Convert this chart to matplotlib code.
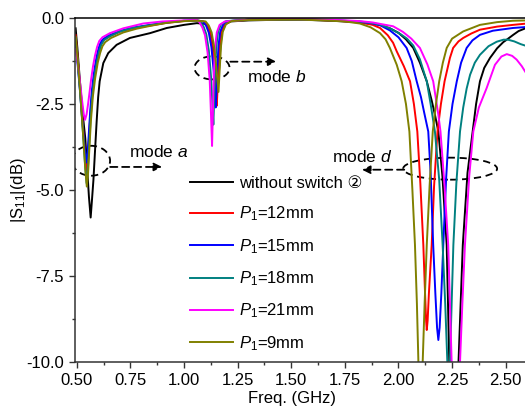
import matplotlib
matplotlib.use('Agg')
import matplotlib.pyplot as plt
from matplotlib.patches import Ellipse

plt.rcParams['font.family'] = ['Liberation Sans', 'DejaVu Sans', 'Noto Sans CJK SC']
plt.rcParams['mathtext.fontset'] = 'custom'
plt.rcParams['mathtext.rm'] = 'Liberation Sans'
plt.rcParams['mathtext.it'] = 'Liberation Sans:italic'
plt.rcParams['axes.unicode_minus'] = False

# S11 curves (frequency in GHz, magnitude in dB)
f_nosw = [0.495, 0.503, 0.515, 0.528, 0.540, 0.549, 0.557, 0.565, 0.571, 0.578, 0.585, 0.593,
          0.600, 0.607, 0.624, 0.647, 0.686, 0.748, 0.842, 0.920, 1.000, 1.060, 1.098, 1.113,
          1.126, 1.138, 1.148, 1.158, 1.164, 1.170, 1.178, 1.193, 1.218, 1.30, 1.45, 1.60,
          1.72, 1.82, 1.88, 1.914, 1.96, 2.00, 2.035, 2.069, 2.100, 2.132, 2.155, 2.170,
          2.186, 2.205, 2.225, 2.237, 2.245, 2.255, 2.265, 2.280, 2.300, 2.322, 2.346, 2.362,
          2.380, 2.400, 2.427, 2.460, 2.489, 2.505, 2.535, 2.560, 2.600]
s_nosw = [-0.30, -0.87, -1.84, -2.80, -3.50, -4.40, -5.20, -5.80, -5.30, -4.70, -3.90, -3.00,
          -2.30, -1.84, -1.31, -1.02, -0.78, -0.58, -0.44, -0.29, -0.20, -0.15, -0.17, -0.27,
          -0.45, -0.85, -1.45, -2.00, -1.45, -0.80, -0.40, -0.18, -0.10, -0.07, -0.05, -0.06,
          -0.09, -0.13, -0.17, -0.20, -0.30, -0.43, -0.62, -0.87, -1.30, -1.84, -2.40, -2.81,
          -3.30, -4.60, -6.60, -10.0, -12.5, -13.5, -12.5, -10.0, -6.60, -4.50, -3.30, -2.50,
          -1.84, -1.45, -1.16, -0.88, -0.70, -0.63, -0.49, -0.38, -0.28]

f_p12 = [0.495, 0.505, 0.515, 0.525, 0.533, 0.540, 0.546, 0.552, 0.558, 0.564, 0.572, 0.582,
         0.592, 0.602, 0.612, 0.625, 0.650, 0.700, 0.760, 0.842, 0.920, 1.000, 1.060, 1.093,
         1.108, 1.121, 1.133, 1.143, 1.148, 1.153, 1.157, 1.161, 1.166, 1.174, 1.188, 1.213,
         1.30, 1.45, 1.60, 1.72, 1.82, 1.88, 1.914, 1.95, 1.975, 1.992, 2.025, 2.054, 2.072,
         2.088, 2.102, 2.116, 2.124, 2.129, 2.132, 2.136, 2.142, 2.155, 2.166, 2.182, 2.198,
         2.215, 2.240, 2.255, 2.280, 2.302, 2.340, 2.380, 2.460, 2.534, 2.600]
s_p12 = [-0.50, -1.20, -2.00, -2.80, -3.50, -4.10, -4.50, -4.10, -3.40, -2.80, -2.20, -1.70,
         -1.30, -1.00, -0.78, -0.64, -0.54, -0.40, -0.30, -0.22, -0.14, -0.09, -0.07, -0.10,
         -0.22, -0.42, -0.85, -1.50, -2.00, -2.55, -2.00, -1.40, -0.80, -0.40, -0.18, -0.09,
         -0.05, -0.04, -0.05, -0.08, -0.13, -0.20, -0.29, -0.50, -0.72, -0.97, -1.40, -1.84, -2.50,
         -3.30, -4.80, -6.60, -8.00, -8.80, -9.07, -8.80, -8.00, -6.60, -4.90, -3.30, -2.50,
         -1.84, -1.16, -0.87, -0.68, -0.58, -0.45, -0.34, -0.25, -0.20, -0.16]

f_p15 = [0.495, 0.505, 0.515, 0.525, 0.533, 0.540, 0.545, 0.551, 0.557, 0.563, 0.570, 0.579,
         0.589, 0.598, 0.608, 0.620, 0.645, 0.700, 0.760, 0.842, 0.920, 1.000, 1.060, 1.088,
         1.103, 1.116, 1.128, 1.138, 1.143, 1.148, 1.152, 1.156, 1.161, 1.169, 1.183, 1.208,
         1.30, 1.45, 1.60, 1.72, 1.82, 1.88, 1.914, 1.96, 2.000, 2.038, 2.062, 2.085, 2.105,
         2.120, 2.139, 2.150, 2.162, 2.172, 2.180, 2.186, 2.192, 2.200, 2.209, 2.222, 2.235,
         2.252, 2.272, 2.292, 2.318, 2.345, 2.380, 2.440, 2.534, 2.600]
s_p15 = [-0.75, -1.40, -2.10, -2.90, -3.50, -3.95, -4.20, -3.90, -3.30, -2.70, -2.15, -1.65,
         -1.25, -0.97, -0.76, -0.63, -0.52, -0.38, -0.28, -0.20, -0.13, -0.08, -0.07, -0.10,
         -0.22, -0.43, -0.85, -1.50, -2.05, -2.60, -2.05, -1.40, -0.80, -0.40, -0.18, -0.09,
         -0.05, -0.04, -0.05, -0.07, -0.11, -0.16, -0.21, -0.36, -0.56, -0.87, -1.25, -1.84, -2.30,
         -2.75, -3.30, -4.50, -6.60, -8.00, -9.00, -9.36, -9.00, -8.00, -6.60, -4.70, -3.30,
         -2.50, -1.84, -1.30, -0.87, -0.65, -0.49, -0.37, -0.29, -0.26]

f_p18 = [0.495, 0.505, 0.515, 0.525, 0.533, 0.540, 0.546, 0.552, 0.558, 0.565, 0.573, 0.583,
         0.594, 0.604, 0.615, 0.628, 0.655, 0.700, 0.760, 0.842, 0.920, 1.000, 1.060, 1.077,
         1.092, 1.104, 1.116, 1.126, 1.132, 1.137, 1.141, 1.145, 1.151, 1.159, 1.172, 1.197,
         1.30, 1.45, 1.60, 1.72, 1.82, 1.88, 1.914, 1.96, 2.010, 2.040, 2.069, 2.100, 2.132,
         2.150, 2.170, 2.190, 2.206, 2.218, 2.228, 2.234, 2.240, 2.248, 2.256, 2.270, 2.287,
         2.302, 2.318, 2.334, 2.356, 2.380, 2.420, 2.458, 2.490, 2.510, 2.540, 2.570, 2.600]
s_p18 = [-0.60, -1.30, -2.10, -2.95, -3.70, -4.35, -4.80, -4.40, -3.70, -2.90, -2.25, -1.70,
         -1.28, -0.98, -0.77, -0.64, -0.53, -0.40, -0.29, -0.21, -0.13, -0.08, -0.07, -0.11,
         -0.26, -0.47, -0.95, -1.70, -2.40, -3.10, -2.30, -1.55, -0.82, -0.41, -0.19, -0.09,
         -0.05, -0.04, -0.05, -0.07, -0.10, -0.15, -0.19, -0.30, -0.47, -0.60, -0.80, -1.20, -1.84,
         -2.50, -3.30, -4.70, -6.60, -8.30, -10.0, -11.0, -10.0, -8.30, -6.60, -4.80, -3.30,
         -2.60, -2.05, -1.65, -1.30, -1.07, -0.82, -0.69, -0.63, -0.63, -0.68, -0.76, -0.82]

f_p21 = [0.495, 0.505, 0.515, 0.525, 0.533, 0.539, 0.546, 0.553, 0.559, 0.566, 0.576, 0.585,
         0.595, 0.605, 0.620, 0.655, 0.717, 0.810, 0.900, 1.000, 1.060, 1.071, 1.086, 1.098,
         1.110, 1.120, 1.126, 1.131, 1.135, 1.139, 1.145, 1.153, 1.166, 1.191, 1.30, 1.45,
         1.60, 1.72, 1.82, 1.88, 1.914, 1.975, 2.020, 2.060, 2.100, 2.135, 2.162, 2.186, 2.196,
         2.214, 2.232, 2.240, 2.248, 2.258, 2.268, 2.278, 2.287, 2.298, 2.310, 2.330, 2.349,
         2.375, 2.411, 2.450, 2.480, 2.505, 2.530, 2.551, 2.575, 2.600]
s_p21 = [-0.90, -1.30, -1.85, -2.40, -2.80, -2.96, -2.80, -2.50, -2.20, -1.84, -1.40, -1.10,
         -0.84, -0.67, -0.56, -0.44, -0.30, -0.16, -0.10, -0.07, -0.06, -0.11, -0.28, -0.50,
         -1.00, -1.80, -2.80, -3.72, -2.70, -1.70, -0.85, -0.42, -0.20, -0.10, -0.05, -0.03,
         -0.04, -0.06, -0.09, -0.13, -0.17, -0.24, -0.40, -0.60, -0.87, -1.35, -1.84, -2.81, -3.30,
         -4.80, -6.60, -8.30, -10.0, -13.0, -14.0, -13.0, -10.0, -8.30, -6.60, -4.60, -3.30,
         -2.60, -2.04, -1.36, -1.12, -1.05, -1.10, -1.21, -1.40, -1.65]

f_p9 = [0.495, 0.505, 0.515, 0.525, 0.533, 0.540, 0.547, 0.553, 0.559, 0.566, 0.575, 0.586,
        0.598, 0.609, 0.620, 0.633, 0.660, 0.717, 0.780, 0.842, 0.920, 1.000, 1.060, 1.101,
        1.116, 1.129, 1.141, 1.151, 1.161, 1.167, 1.173, 1.181, 1.196, 1.221, 1.30, 1.45,
        1.55, 1.65, 1.75, 1.82, 1.87, 1.914, 1.940, 1.960, 1.992, 2.015, 2.035, 2.051, 2.065,
        2.077, 2.086, 2.093, 2.098, 2.103, 2.108, 2.113, 2.122, 2.132, 2.145, 2.160, 2.175,
        2.190, 2.207, 2.225, 2.250, 2.302, 2.380, 2.460, 2.534, 2.600]
s_p9 = [-0.55, -1.25, -2.05, -2.95, -3.70, -4.40, -4.90, -4.50, -3.80, -3.00, -2.30, -1.75,
        -1.30, -1.02, -0.82, -0.70, -0.58, -0.42, -0.31, -0.23, -0.14, -0.09, -0.08, -0.10,
        -0.22, -0.42, -0.85, -1.45, -2.15, -1.45, -0.80, -0.40, -0.18, -0.09, -0.06, -0.05,
        -0.05, -0.07, -0.10, -0.16, -0.27, -0.44, -0.62, -0.87, -1.36, -1.84, -2.50, -3.30, -5.00,
        -6.60, -8.30, -10.0, -11.3, -11.8, -11.3, -10.0, -8.30, -6.60, -4.90, -3.30, -2.50,
        -1.84, -1.30, -0.87, -0.60, -0.39, -0.20, -0.12, -0.08, -0.07]

curves = [
    (f_nosw, s_nosw, 'black', 'without switch \u2461'),
    (f_p12, s_p12, '#ff0000', r'$\mathit{P}_{1}$=12mm'),
    (f_p15, s_p15, '#0000ff', r'$\mathit{P}_{1}$=15mm'),
    (f_p18, s_p18, '#008080', r'$\mathit{P}_{1}$=18mm'),
    (f_p21, s_p21, '#ff00ff', r'$\mathit{P}_{1}$=21mm'),
    (f_p9, s_p9, '#808000', r'$\mathit{P}_{1}$=9mm'),
]

fig = plt.figure(figsize=(5.25, 4.08), dpi=100)
ax = fig.add_axes([75 / 525, 46 / 408, 450 / 525, 344 / 408])

for f, s, c, lab in curves:
    ax.plot(f, s, color=c, lw=1.4, label=lab)

ax.set_xlim(0.492, 2.59)
ax.set_ylim(-10.0, 0.0)
ax.set_xticks([0.5, 0.75, 1.0, 1.25, 1.5, 1.75, 2.0, 2.25, 2.5])
ax.set_xticks([0.625, 0.875, 1.125, 1.375, 1.625, 1.875, 2.125, 2.375], minor=True)
ax.set_yticks([0.0, -2.5, -5.0, -7.5, -10.0])
ax.set_yticks([-1.25, -3.75, -6.25, -8.75], minor=True)
ax.set_xticklabels(['%.2f' % v for v in ax.get_xticks()])
ax.set_yticklabels(['%.1f' % v for v in ax.get_yticks()])
ax.tick_params(which='both', direction='out', width=1.0, labelsize=12, color='#333333')
ax.tick_params(which='major', length=4.5)
ax.tick_params(which='minor', length=2.5)
ax.spines['right'].set_visible(False)
for side in ['left', 'bottom', 'top']:
    ax.spines[side].set_linewidth(1.1)
    ax.spines[side].set_color('#333333')
ax.spines['top'].set_color('black')

ax.set_xlabel('Freq. (GHz)', fontsize=12)
ax.set_ylabel(r'|S$_{11}$|(dB)', fontsize=12)
ax.xaxis.set_label_coords(0.482, -0.085)
ax.yaxis.set_label_coords(-0.105, 0.5)

ax.legend(loc='upper left', bbox_to_anchor=(190 / 525, 1 - 176 / 408),
          bbox_transform=fig.transFigure, frameon=False, fontsize=12,
          handlelength=2.6, handletextpad=0.35, labelspacing=0.82,
          borderpad=0, borderaxespad=0)

# mode markers: dashed ellipses, arrows and labels
dash = dict(color='black', lw=1.3, ls=(0, (4, 2.6)))
ax.add_patch(Ellipse((0.567, -4.15), 0.177, 0.87, fill=False, **dash))
ax.add_patch(Ellipse((1.131, -1.45), 0.163, 0.67, fill=False, **dash))
ax.add_patch(Ellipse((2.241, -4.38), 0.438, 0.64, fill=False, **dash))

arrow = dict(arrowstyle='-|>', ls=(0, (4, 2.6)), lw=1.3, color='black', mutation_scale=12,
             shrinkA=0, shrinkB=0)
ax.annotate('', xy=(0.898, -4.33), xytext=(0.656, -4.33), arrowprops=arrow)
ax.annotate('', xy=(1.431, -1.27), xytext=(1.216, -1.27), arrowprops=arrow)
ax.annotate('', xy=(1.830, -4.41), xytext=(2.027, -4.41), arrowprops=arrow)

ax.text(0.884, -3.89, r'mode $\mathit{a}$', ha='center', va='center', fontsize=12.5)
ax.text(1.434, -1.71, r'mode $\mathit{b}$', ha='center', va='center', fontsize=12.5)
ax.text(1.830, -4.05, r'mode $\mathit{d}$', ha='center', va='center', fontsize=12.5)

fig.savefig('out.png', dpi=100)
